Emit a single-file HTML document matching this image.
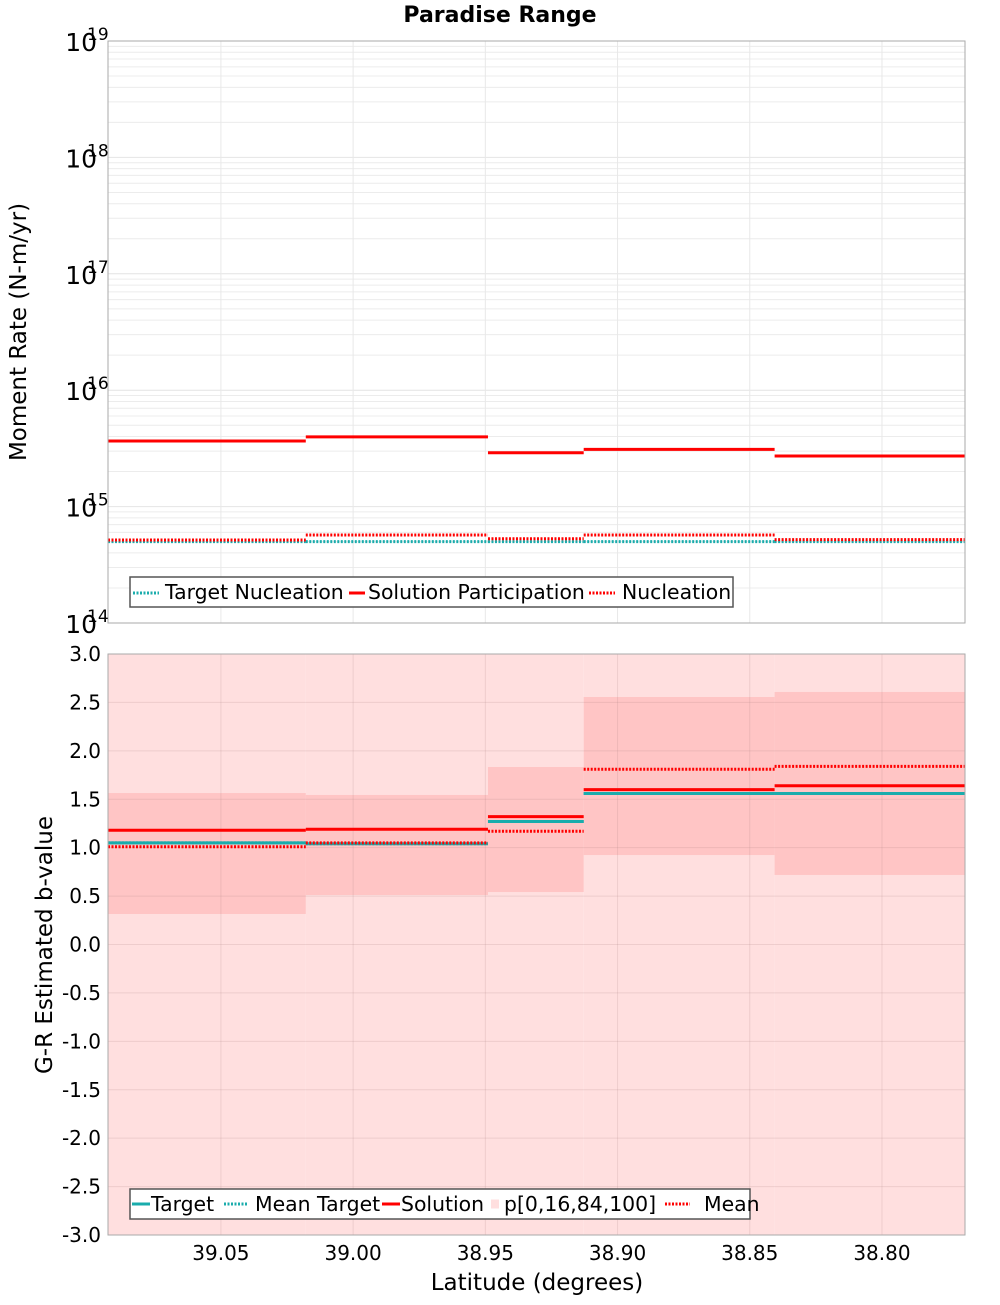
<!DOCTYPE html>
<html><head><meta charset="utf-8"><style>
body{margin:0;background:#fff}
svg text{font-family:"DejaVu Sans","Liberation Sans",sans-serif}
</style></head><body>
<svg id="c" width="1000" height="1300" viewBox="0 0 1000 1300" xmlns="http://www.w3.org/2000/svg"></svg>
<script>
const edges=[39.0927,39.0179,38.949,38.9128,38.8406,38.7686];
const xTicks=[39.05,39.00,38.95,38.90,38.85,38.80];
const solPart=[3.66e15,3.97e15,2.9e15,3.1e15,2.72e15];
const nucleation=[5.16e14,5.7e14,5.3e14,5.7e14,5.2e14];
const targetNuc=[5.0e14,5.0e14,5.0e14,5.0e14,5.0e14];
const p16=[0.315,0.511,0.542,0.924,0.718];
const p84=[1.564,1.544,1.833,2.556,2.608];
const p0=[-3,-3,-3,-3,-3];
const p100=[3,3,3,3,3];
const solB=[1.18,1.19,1.32,1.60,1.64];
const targetB=[1.05,1.04,1.27,1.56,1.56];
const meanTargetB=[1.05,1.04,1.27,1.56,1.56];
const meanB=[1.01,1.05,1.17,1.81,1.84];
const bTicks=[3.0,2.5,2.0,1.5,1.0,0.5,0.0,-0.5,-1.0,-1.5,-2.0,-2.5,-3.0];
const decades=[19,18,17,16,15,14];

const NS="http://www.w3.org/2000/svg";
const svg=document.getElementById('c');
const L=108,R=965,T1=41,B1=623,T2=654,B2=1235;
const x=v=>L+(edges[0]-v)/(edges[0]-edges[5])*(R-L);
const y1=v=>T1+(19-Math.log10(v))/5*(B1-T1);
const y2=v=>T2+(3-v)/6*(B2-T2);
function el(tag,attrs,parent){const e=document.createElementNS(NS,tag);for(const k in attrs)e.setAttribute(k,attrs[k]);(parent||svg).appendChild(e);return e;}
function txt(s,attrs,parent){const e=el('text',attrs,parent);e.textContent=s;return e;}

let t=txt('Paradise Range',{x:500,y:22,'text-anchor':'middle','font-size':22,'font-weight':'bold'});



const g1=el('g',{});


el('rect',{x:L,y:T1,width:R-L,height:B1-T1,fill:'#fff'},g1);
for(let d=14;d<19;d++){for(let m=2;m<10;m++){const yy=y1(m*Math.pow(10,d));el('line',{x1:L,x2:R,y1:yy,y2:yy,stroke:'#ececec','stroke-width':1},g1);}}
decades.forEach(d=>{const yy=y1(Math.pow(10,d));el('line',{x1:L,x2:R,y1:yy,y2:yy,stroke:'#e4e4e4'},g1);
 const tt=txt('10',{x:97,y:yy+10,'text-anchor':'end','font-size':25});
 
 const sp=txt(String(d),{x:87,y:yy-1,'font-size':17});
 });
xTicks.forEach(v=>el('line',{x1:x(v),x2:x(v),y1:T1,y2:B1,stroke:'#e8e8e8'},g1));
function steps(arr,yf,attrs,g,name){arr.forEach((v,i)=>{const l=el('line',Object.assign({x1:x(edges[i]),x2:x(edges[i+1]),y1:yf(v),y2:yf(v)},attrs),g);
 });}
steps(targetNuc,y1,{stroke:'#1aacac','stroke-width':3,'stroke-dasharray':'2,1.5'},g1,'target-nucleation');
steps(nucleation,y1,{stroke:'#f00','stroke-width':3,'stroke-dasharray':'2,1.5'},g1,'nucleation');
steps(solPart,y1,{stroke:'#f00','stroke-width':3},g1,'solution-participation');
el('rect',{x:L,y:T1,width:R-L,height:B1-T1,fill:'none',stroke:'#aaa'},g1);
t=txt('Moment Rate (N-m/yr)',{transform:'translate(26,332) rotate(-90)','text-anchor':'middle','font-size':23});

const lg1=el('g',{});


el('rect',{x:130,y:577,width:603,height:30,fill:'#fff',stroke:'#555','stroke-width':1.5},lg1);
[[133,159,165,'Target Nucleation','#1aacac',true],[349,365,368,'Solution Participation','#f00',false],[589,615,622,'Nucleation','#f00',true]].forEach(([lx,lx2,tx,s,c,d])=>{
 el('line',{x1:lx,x2:lx2,y1:593,y2:593,stroke:c,'stroke-width':3,'stroke-dasharray':d?'2,1.5':'none'},lg1);
 const tt=txt(s,{x:tx,y:599,'font-size':20.4},lg1);
 });

const g2=el('g',{});


el('rect',{x:L,y:T2,width:R-L,height:B2-T2,fill:'#fff'},g2);
p0.forEach((v,i)=>{const r=el('rect',{x:x(edges[i]),width:x(edges[i+1])-x(edges[i]),y:y2(p100[i]),height:y2(v)-y2(p100[i]),fill:'#ffdfdf'},g2);
 });
p16.forEach((v,i)=>{const r=el('rect',{x:x(edges[i]),width:x(edges[i+1])-x(edges[i]),y:y2(p84[i]),height:y2(v)-y2(p84[i]),fill:'#ffc5c5'},g2);
 });
bTicks.forEach(v=>{el('line',{x1:L,x2:R,y1:y2(v),y2:y2(v),stroke:'rgba(160,120,120,0.18)'},g2);
 const tt=txt(v.toFixed(1),{x:101,y:y2(v)+7,'text-anchor':'end','font-size':20});
 });
xTicks.forEach(v=>{el('line',{x1:x(v),x2:x(v),y1:T2,y2:B2,stroke:'rgba(160,120,120,0.18)'},g2);
 const tt=txt(v.toFixed(2),{x:x(v),y:1260,'text-anchor':'middle','font-size':20});
 });
steps(targetB,y2,{stroke:'#1aacac','stroke-width':3},g2,'target');
steps(meanTargetB,y2,{stroke:'#1aacac','stroke-width':3,'stroke-dasharray':'2,1.5'},g2,'mean-target');
steps(meanB,y2,{stroke:'#f00','stroke-width':3,'stroke-dasharray':'2,1.5'},g2,'mean');
steps(solB,y2,{stroke:'#f00','stroke-width':3},g2,'solution');
el('rect',{x:L,y:T2,width:R-L,height:B2-T2,fill:'none',stroke:'#aaa'},g2);
t=txt('G-R Estimated b-value',{transform:'translate(52,945) rotate(-90)','text-anchor':'middle','font-size':23});

t=txt('Latitude (degrees)',{x:537,y:1290,'text-anchor':'middle','font-size':23});

const lg2=el('g',{});


el('rect',{x:130,y:1189,width:620,height:30,fill:'#fff',stroke:'#555','stroke-width':1.5},lg2);
[[132,150,151,'Target','#1aacac','none',3],[224,248,255,'Mean Target','#1aacac','2,1.5',3],[382,400,401,'Solution','#f00','none',3],[491,499,504,'p[0,16,84,100]','#ffdfdf','none',9],[665,690,704,'Mean','#f00','2,1.5',3]].forEach(([lx,lx2,tx,s,c,d,w])=>{
 el('line',{x1:lx,x2:lx2,y1:1204,y2:1204,stroke:c,'stroke-width':w,'stroke-dasharray':d},lg2);
 const tt=txt(s,{x:tx,y:1211,'font-size':20.4},lg2);
 });
</script>
</body></html>
